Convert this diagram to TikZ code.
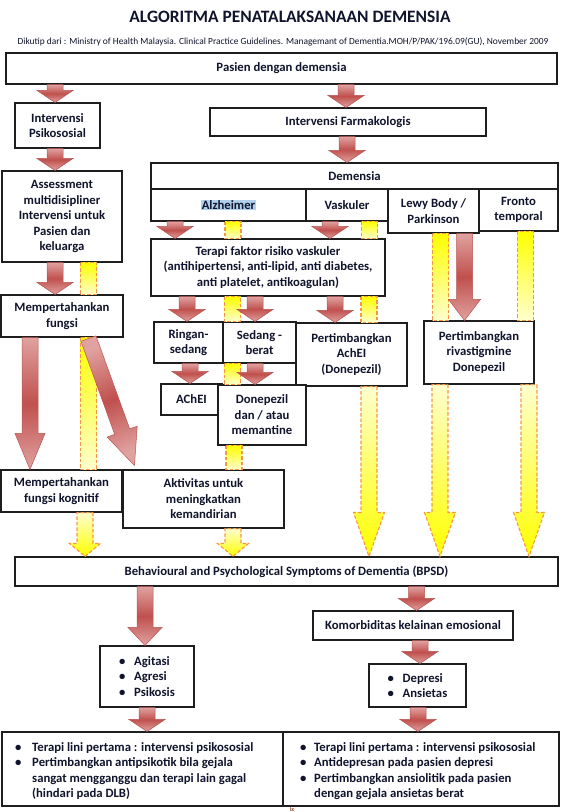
\documentclass[tikz,border=0pt]{standalone}
\usepackage{fontspec}
\setmainfont{Carlito}
\usetikzlibrary{calc, positioning}

\definecolor{txt}{RGB}{16, 20, 44}
\definecolor{boxline}{RGB}{30, 30, 30}
\definecolor{arrred}{RGB}{192, 80, 77}
\definecolor{arrpink}{RGB}{224, 162, 160}
\definecolor{arrline}{RGB}{185, 85, 82}
\definecolor{yelline}{RGB}{247, 150, 70}
\definecolor{yelhi}{RGB}{255, 255, 0}
\definecolor{yello}{RGB}{255, 255, 205}
\definecolor{hilite}{RGB}{176, 208, 236}
\definecolor{pagemark}{RGB}{140, 70, 30}

\newcommand{\boxfont}{\bfseries\fontsize{12.7}{15.5}\selectfont}
\newcommand{\bul}[1][15pt]{\makebox[#1][l]{\textbullet}}
\def\fasw{8pt}\def\fahw{18pt}\def\fahl{12pt}

\tikzset{
  box/.style={draw=boxline, line width=1.1pt, fill=white, text=txt,
              align=center, inner sep=0pt, font=\boxfont},
  shaftw/.code={\def\fasw{#1}},
  headw/.code={\def\fahw{#1}},
  headl/.code={\def\fahl{#1}},
  redfill/.style={top color=arrpink, bottom color=arrpink, middle color=arrred,
                  draw=arrline, line width=0.5pt},
  yelbarfill/.style={top color=yelhi, bottom color=yello, draw=yelline,
                     line width=1.1pt, dash pattern=on 3.5pt off 2pt},
  yelheadfill/.style={top color=yello, bottom color=yelhi, draw=yelline,
                      line width=1.1pt, dash pattern=on 3.5pt off 2pt, headw=15.5pt},
}

% fat block arrow from #2 to #3
\newcommand{\fatarrow}[3][]{%
  \path[#1] ($(#2)!\fasw!90:(#3)$)
    -- ($($(#3)!\fahl!(#2)$)!\fasw!90:(#3)$)
    -- ($($(#3)!\fahl!(#2)$)!\fahw!90:(#3)$)
    -- (#3)
    -- ($($(#3)!\fahl!(#2)$)!\fahw!-90:(#3)$)
    -- ($($(#3)!\fahl!(#2)$)!\fasw!-90:(#3)$)
    -- ($(#2)!\fasw!-90:(#3)$) -- cycle;
}
% vertical arrows between two nodes, at column x=#2
\newcommand{\redarr}[4][]{%
  \coordinate (fa-x) at (#2,0);
  \fatarrow[redfill,#1]{#3.south -| fa-x}{#4.north -| fa-x}}
\newcommand{\yelarr}[4][]{%
  \coordinate (fa-x) at (#2,0);
  \fatarrow[yelheadfill,#1]{#3.south -| fa-x}{#4.north -| fa-x}}
\newcommand{\yelbar}[3]{%
  \coordinate (fa-x) at (#1,0);
  \path[yelbarfill] ($(#2.south -| fa-x)+(-8,0)$) rectangle ($(#3.north -| fa-x)+(8,0)$);}

\begin{document}
\begin{tikzpicture}[x=1pt, y=-1pt]

\useasboundingbox (0,0) rectangle (563,812);
\fill[white] (0,0) rectangle (563,812);

% title
\node[text=txt, font=\bfseries\fontsize{17.4}{20}\selectfont] (title) at (290,17)
  {ALGORITMA PENATALAKSANAAN DEMENSIA};
\node[text=txt, font=\fontsize{9.4}{11}\selectfont] (source) at (283,42)
  {Dikutip dari : Ministry of Health Malaysia. Clinical Practice Guidelines. Managemant of Dementia.MOH/P/PAK/196.09(GU), November 2009};

% left column
\node[box, minimum width=551pt, minimum height=31pt] (pasien) at (281.5,68.5) {Pasien dengan demensia};
\node[box, minimum width=85pt, minimum height=45pt] (psiko) at (57.5,125.5) {Intervensi\\Psikososial};
\node[box, minimum width=120pt, minimum height=91pt] (assess) at (62,216.5)
  {Assessment\\multidisipliner\\Intervensi untuk\\Pasien dan\\keluarga};
\node[box, minimum width=122pt, minimum height=42pt] (fungsi) at (62,316) {Mempertahankan\\fungsi};
\node[box, minimum width=121pt, minimum height=42pt] (kognitif) at (61.5,491) {Mempertahankan\\fungsi kognitif};
\node[box, minimum width=161pt, minimum height=58pt] (aktiv) at (203.5,499) {Aktivitas untuk\\meningkatkan\\kemandirian};

% farmakologis branch
\node[box, minimum width=276pt, minimum height=28pt] (farm) at (348,122) {Intervensi Farmakologis};
\node[box, minimum width=407pt, minimum height=26pt] (demensia) at (354.5,176) {Demensia};
\node[box, minimum width=155pt, minimum height=32pt] (alz) at (228.5,205)
  {{\setlength{\fboxsep}{0.6pt}\colorbox{hilite}{Alzheimer}}};
\node[box, minimum width=82pt, minimum height=32pt] (vask) at (347,205) {Vaskuler};
\node[box, minimum width=91pt, minimum height=44pt] (lewy) at (433.5,211) {Lewy Body /\\Parkinson};
\node[box, minimum width=79pt, minimum height=42pt] (fronto) at (518.5,210) {Fronto\\temporal};
\node[box, minimum width=234pt, minimum height=57pt] (terapi) at (268,267.5)
  {Terapi faktor risiko vaskuler\\(antihipertensi, anti-lipid, anti diabetes,\\anti platelet, antikoagulan)};
\node[box, minimum width=69pt, minimum height=41pt] (ringan) at (188.5,342.5) {Ringan-\\sedang};
\node[box, minimum width=73pt, minimum height=41pt] (sedang) at (259.5,342.5) {Sedang -\\berat};
\node[box, minimum width=111pt, minimum height=63pt] (pertAch) at (351.5,354.5) {Pertimbangkan\\AchEI\\(Donepezil)};
\node[box, minimum width=110pt, minimum height=63pt] (riva) at (479,352.5) {Pertimbangkan\\rivastigmine\\Donepezil};
\node[box, minimum width=61pt, minimum height=31pt] (achei) at (191.5,399.5) {AChEI};
\node[box, minimum width=88pt, minimum height=60pt] (donep) at (262,415) {Donepezil\\dan / atau\\memantine};

% BPSD
\node[box, minimum width=543pt, minimum height=29pt] (bpsd) at (286.5,571.5)
  {Behavioural and Psychological Symptoms of Dementia (BPSD)};
\node[box, minimum width=200pt, minimum height=29pt] (komor) at (413,625.5) {Komorbiditas kelainan emosional};
\node[box, minimum width=94pt, minimum height=61pt, align=left] (agit) at (147,676.5)
  {\bul Agitasi\\\bul Agresi\\\bul Psikosis};
\node[box, minimum width=97pt, minimum height=43pt, align=left] (depr) at (417.5,685.5)
  {\bul Depresi\\\bul Ansietas};
\node[box, minimum width=281pt, minimum height=74pt] (terL) at (142.5,769) {};
\node[box, minimum width=276pt, minimum height=74pt] (terR) at (421,769) {};
\node[text=txt, font=\boxfont, align=left, anchor=west, inner sep=0pt] (terLtext) at (15,771)
  {\bul[17pt]Terapi lini pertama : intervensi psikososial\\
   \bul[17pt]Pertimbangkan antipsikotik bila gejala\\
   \hspace*{17pt}sangat mengganggu dan terapi lain gagal\\
   \hspace*{17pt}(hindari pada DLB)};
\node[text=txt, font=\boxfont, align=left, anchor=west, inner sep=0pt] (terRtext) at (300,771)
  {\bul[14pt]Terapi lini pertama : intervensi psikososial\\
   \bul[14pt]Antidepresan pada pasien depresi\\
   \bul[14pt]Pertimbangkan ansiolitik pada pasien\\
   \hspace*{14pt}dengan gejala ansietas berat};
\node[text=pagemark, font=\bfseries\fontsize{6}{7}\selectfont, anchor=south, inner sep=0pt] (pageno) at (292,811.5) {ix};

% yellow dashed columns
\yelbar{88.5}{assess}{fungsi}
\yelbar{88.5}{fungsi}{kognitif}
\yelbar{233}{alz}{terapi}
\yelbar{369.5}{vask}{terapi}
\yelbar{232.5}{terapi}{sedang}
\yelbar{369}{terapi}{pertAch}
\yelbar{232.5}{sedang}{donep}
\yelbar{234}{donep}{aktiv}
\yelbar{440.5}{lewy}{riva}
\yelbar{525.5}{fronto}{riva}
\yelarr[headl=13pt]{85}{kognitif}{bpsd}
\yelarr[headl=13pt]{233}{aktiv}{bpsd}
\yelarr[headl=44pt]{369}{pertAch}{bpsd}
\yelarr[headl=44pt]{440}{riva}{bpsd}
\yelarr[headl=44pt]{529}{riva}{bpsd}

% red block arrows
\redarr{55}{pasien}{psiko}
\redarr{346}{pasien}{farm}
\redarr{55}{psiko}{assess}
\redarr{55}{assess}{fungsi}
\redarr[headl=36pt, headw=15pt]{30}{fungsi}{kognitif}
\coordinate (diagA) at ($(fungsi.south west)+(88,1)$);
\coordinate (diagB) at ($(aktiv.north west)+(12,-4)$);
\fatarrow[redfill, headl=36pt, headw=16pt, shading angle=20]{diagA}{diagB}
\redarr{347}{farm}{demensia}
\redarr{175}{alz}{terapi}
\redarr{330}{vask}{terapi}
\redarr{187}{terapi}{ringan}
\redarr{255}{terapi}{sedang}
\redarr{335}{terapi}{pertAch}
\redarr{190}{ringan}{achei}
\redarr{255}{sedang}{donep}
\redarr[headl=21pt, headw=16pt]{464.5}{lewy}{riva}
\redarr[headl=18pt, headw=17pt]{145}{bpsd}{agit}
\redarr{416.5}{bpsd}{komor}
\redarr{420}{komor}{depr}
\redarr{147}{agit}{terL}
\redarr{418}{depr}{terR}

\end{tikzpicture}
\end{document}
